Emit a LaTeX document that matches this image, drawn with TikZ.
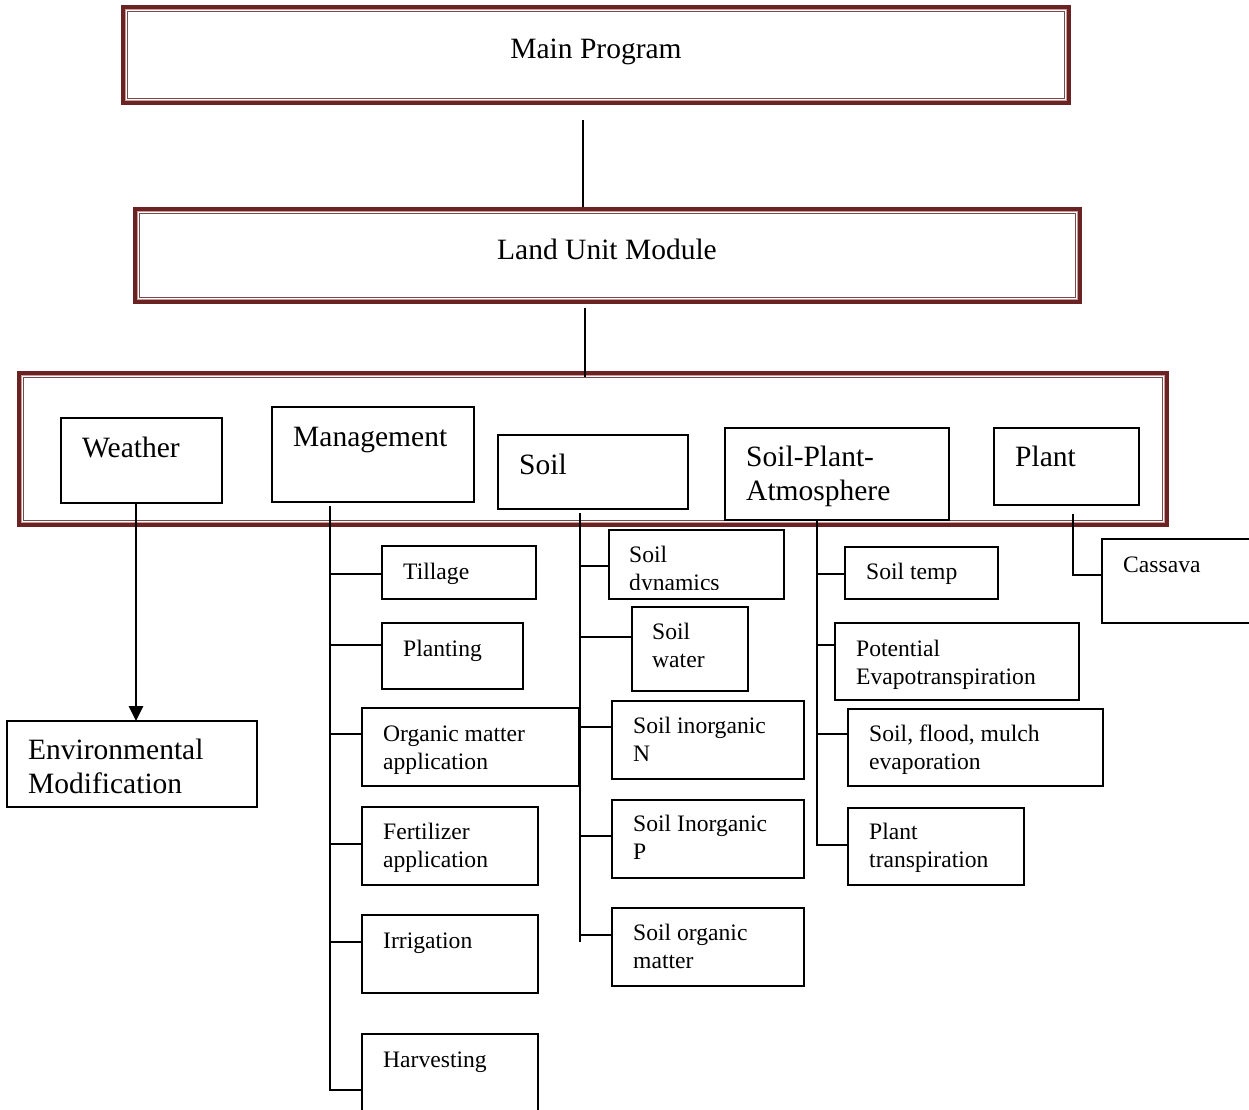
\documentclass[tikz,border=0pt]{standalone}
\usepackage{fontspec}
\setmainfont{Liberation Serif}
\usetikzlibrary{arrows.meta}
\definecolor{maroon}{HTML}{6B2222}
\definecolor{pinkl}{HTML}{C99A9A}
\definecolor{innerd}{HTML}{7A4A4A}
\tikzset{
  bx/.style={draw=black, line width=1.5pt, inner sep=0pt, outer sep=0pt, anchor=north west, rectangle},
  conn/.style={draw=black, line width=1.4pt},
  arr/.style={draw=black, line width=2.6pt, -{Triangle[length=15pt,width=14pt]}},
  big/.style={inner sep=0pt, font=\fontsize{29.5}{34}\selectfont, align=left},
  sml/.style={inner sep=0pt, font=\fontsize{23.6}{28}\selectfont, align=left},
}
\newcommand\mkbox[6][]{\node[bx,#1,minimum width={#5-#3},minimum height={#6-#4}] (#2) at (#3,#4) {};}
\newcommand\dblbox[5]{%
  \mkbox[draw=none]{#1}{#2}{#3}{#4}{#5}
  \draw[maroon, line width=4pt] ([shift={(2,2)}]#1.north west) rectangle ([shift={(-2,-2)}]#1.south east);
  \draw[pinkl, line width=1pt] ([shift={(4.5,4.5)}]#1.north west) rectangle ([shift={(-4.5,-4.5)}]#1.south east);
  \draw[innerd, line width=1pt] ([shift={(6.5,6.5)}]#1.north west) rectangle ([shift={(-6.5,-6.5)}]#1.south east);
}
\begin{document}
\begin{tikzpicture}[x=1pt,y=-1pt]
\useasboundingbox (0,0) rectangle (1249,1109);
\clip (0,0) rectangle (1249,1109);
% double-framed boxes
\dblbox{mp}{121}{5}{1071}{105}
\dblbox{lum}{133}{207}{1082}{304}
\dblbox{cont}{17}{371}{1169}{527}
\node[big, anchor=base] (t-mp) at (596,58) {Main Program};
\node[big, anchor=base] (t-lum) at (607,259) {Land Unit Module};
% modules
\mkbox{weather}{61}{418}{222}{503}
\mkbox{mgmt}{272}{407}{474}{502}
\mkbox{soil}{498}{435}{688}{509}
\mkbox{spa}{725}{428}{949}{520}
\mkbox{plant}{994}{428}{1139}{505}
\mkbox{env}{7}{721}{257}{807}
\node[big, anchor=base west] (t-weather) at (82,457) {Weather};
\node[big, anchor=base west] (t-mgmt) at (293,446) {Management};
\node[big, anchor=base west] (t-soil) at (519,474) {Soil};
\node[big, anchor=base west] (t-spa) at (746,500) {Soil-Plant-\\Atmosphere};
\node[big, anchor=base west] (t-plant) at (1015,466) {Plant};
\node[big, anchor=base west] (t-env) at (28,793) {Environmental\\Modification};
% management sub-boxes
\mkbox{till}{382}{546}{536}{599}
\mkbox{plnt}{382}{623}{523}{689}
\mkbox{orgm}{362}{708}{579}{786}
\mkbox{fert}{362}{807}{538}{885}
\mkbox{irr}{362}{915}{538}{993}
\mkbox{harv}{362}{1034}{538}{1120}
\node[sml, anchor=base west] (t-till) at (403,579) {Tillage};
\node[sml, anchor=base west] (t-plnt) at (403,656) {Planting};
\node[sml, anchor=base west] (t-orgm) at (383,769) {Organic matter\\application};
\node[sml, anchor=base west] (t-fert) at (383,867) {Fertilizer\\application};
\node[sml, anchor=base west] (t-irr) at (383,948) {Irrigation};
\node[sml, anchor=base west] (t-harv) at (383,1067) {Harvesting};
% soil sub-boxes
\mkbox{sdyn}{609}{530}{784}{599}
\mkbox{swat}{632}{607}{748}{691}
\mkbox{sin}{612}{701}{804}{779}
\mkbox{sip}{612}{800}{804}{878}
\mkbox{som}{612}{908}{804}{986}
\begin{scope}
  \clip (609,530) rectangle (784,589);
  \node[sml, anchor=base west] (t-sdyn) at (629,590) {Soil\\dynamics};
\end{scope}
\node[sml, anchor=base west] (t-swat) at (652,667) {Soil\\water};
\node[sml, anchor=base west] (t-sin) at (633,761) {Soil inorganic\\N};
\node[sml, anchor=base west] (t-sip) at (633,859) {Soil Inorganic\\P};
\node[sml, anchor=base west] (t-som) at (633,968) {Soil organic\\matter};
% soil-plant-atmosphere sub-boxes
\mkbox{stmp}{845}{547}{998}{599}
\mkbox{pet}{835}{623}{1079}{700}
\mkbox{sfm}{848}{709}{1103}{786}
\mkbox{ptr}{848}{808}{1024}{885}
\node[sml, anchor=base west] (t-stmp) at (866,579) {Soil temp};
\node[sml, anchor=base west] (t-pet) at (856,684) {Potential\\Evapotranspiration};
\node[sml, anchor=base west] (t-sfm) at (869,769) {Soil, flood, mulch\\evaporation};
\node[sml, anchor=base west] (t-ptr) at (869,867) {Plant\\transpiration};
% plant sub-box
\mkbox{cass}{1102}{539}{1260}{623}
\node[sml, anchor=base west] (t-cass) at (1123,572) {Cassava};
% connectors
\coordinate (mp-out) at (583,120);
\draw[conn] (mp-out) -- (mp-out |- lum.north);
\coordinate (lu-out) at (585,308);
\coordinate (cont-in) at (585,377);
\draw[conn] (lu-out) -- (cont-in);
\coordinate (w-out) at (136,503);
\draw[arr] (w-out) -- (w-out |- env.north);
% management trunk
\coordinate (m-top) at (330,506);
\coordinate (m-bot) at (330,1090);
\draw[conn] (m-top) -- (m-bot) -- (m-bot -| harv.west);
\foreach \y/\b in {574/till,645/plnt,734/orgm,844/fert,942/irr}{
  \coordinate (mt-\b) at (330,\y);
  \draw[conn] (mt-\b) -- (mt-\b -| \b.west);
}
% soil trunk
\coordinate (s-top) at (580,513);
\coordinate (s-bot) at (580,942);
\draw[conn] (s-top) -- (s-bot);
\foreach \y/\b in {566/sdyn,637/swat,727/sin,836/sip,935/som}{
  \coordinate (st-\b) at (580,\y);
  \draw[conn] (st-\b) -- (st-\b -| \b.west);
}
% spa trunk
\coordinate (a-top) at (817,520);
\coordinate (a-bot) at (817,845);
\draw[conn] (a-top) -- (a-bot) -- (a-bot -| ptr.west);
\foreach \y/\b in {574/stmp,645/pet,734/sfm}{
  \coordinate (at-\b) at (817,\y);
  \draw[conn] (at-\b) -- (at-\b -| \b.west);
}
% plant trunk
\coordinate (p-top) at (1073,514);
\coordinate (p-bot) at (1073,575);
\draw[conn] (p-top) -- (p-bot) -- (p-bot -| cass.west);
\end{tikzpicture}
\end{document}
